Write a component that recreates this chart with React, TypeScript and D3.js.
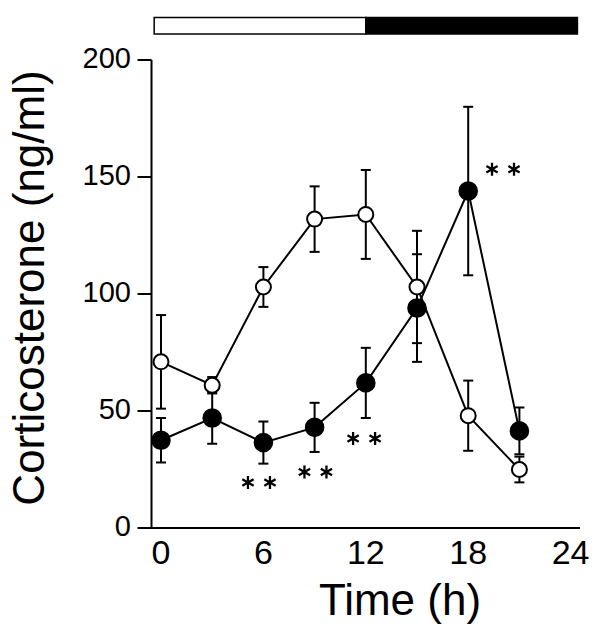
import React from "react";
import * as d3 from "d3";

const hours = [0, 3, 6, 9, 12, 15, 18, 21];
const lightMean = [71, 61, 103, 132, 134, 103, 48, 25];
const lightSE = [20, 3.5, 8.5, 14, 19, 24, 15, 5.5];
const darkMean = [37.5, 47, 36.5, 43, 62, 94, 144, 41.5];
const darkSE = [9.5, 11, 9, 10.5, 15, 23, 36, 10];
const xTicks = [0, 6, 12, 18, 24];
const yTicks = [0, 50, 100, 150, 200];
const starHours = [5.74, 9.05, 11.9, 20.04];
const starValues = [19.4, 23.9, 38.2, 153.3];
const barSegments = [
  { from: -0.4, to: 12, fill: "#fff" },
  { from: 12, to: 24.4, fill: "#000" },
];

const W = 600;
const H = 631;
const FONT = "'Liberation Sans', Arial, Helvetica, sans-serif";

function Star({ cx, cy }: { cx: number; cy: number }) {
  const r = 6.5;
  const a = Math.cos(Math.PI / 6) * r;
  const b = Math.sin(Math.PI / 6) * r;
  const d = `M${cx},${cy - r}L${cx},${cy + r}M${cx - a},${cy - b}L${cx + a},${cy + b}M${cx - a},${cy + b}L${cx + a},${cy - b}`;
  return <path d={d} stroke="#000" strokeWidth={2.3} fill="none" />;
}

export default function App() {
  const x = d3.scaleLinear().domain([0, 24]).range([161, 570.6]);
  const y = d3.scaleLinear().domain([0, 200]).range([528, 60]);
  const axisX = 151.5;

  const line = d3
    .line<number>()
    .x((_, i) => x(hours[i]))
    .y((d) => y(d));

  const series = [
    { mean: lightMean, se: lightSE, fill: "#fff", r: 7.5 },
    { mean: darkMean, se: darkSE, fill: "#000", r: 8.8 },
  ];

  return (
    <svg
      width={W}
      height={H}
      style={{ position: "absolute", left: 0, top: 0, background: "#fff" }}
      fontFamily={FONT}
    >
      <rect x={0} y={0} width={W} height={H} fill="#fff" />
      {/* light/dark bar */}
      {barSegments.map((s, i) => (
        <rect
          key={i}
          x={x(s.from)}
          y={17.5}
          width={x(s.to) - x(s.from)}
          height={16.5}
          fill={s.fill}
          stroke="#000"
          strokeWidth={1.5}
        />
      ))}
      {/* axes */}
      <line x1={axisX} x2={axisX} y1={y(200)} y2={y(0)} stroke="#000" strokeWidth={2} />
      <line x1={axisX - 1} x2={x(24.55)} y1={y(0)} y2={y(0)} stroke="#000" strokeWidth={2} />
      {yTicks.map((t) => (
        <g key={t}>
          <line x1={axisX - 14} x2={axisX} y1={y(t)} y2={y(t)} stroke="#000" strokeWidth={2} />
          <text x={131} y={y(t) + 8} textAnchor="end" fontSize={29}>
            {t}
          </text>
        </g>
      ))}
      {xTicks.map((t) => (
        <text key={t} x={x(t)} y={564} textAnchor="middle" fontSize={34}>
          {t}
        </text>
      ))}
      <text x={400} y={615} textAnchor="middle" fontSize={44}>
        Time (h)
      </text>
      <text
        transform={`translate(43.5,288) rotate(-90)`}
        textAnchor="middle"
        fontSize={44}
      >
        Corticosterone (ng/ml)
      </text>
      {/* series */}
      {series.map((s, k) => (
        <g key={k}>
          <path d={line(s.mean) || ""} fill="none" stroke="#000" strokeWidth={2} />
          {s.mean.map((m, i) => (
            <g key={i}>
              <line x1={x(hours[i])} x2={x(hours[i])} y1={y(m - s.se[i])} y2={y(m + s.se[i])} stroke="#000" strokeWidth={2} />
              <line x1={x(hours[i]) - 5} x2={x(hours[i]) + 5} y1={y(m - s.se[i])} y2={y(m - s.se[i])} stroke="#000" strokeWidth={2} />
              <line x1={x(hours[i]) - 5} x2={x(hours[i]) + 5} y1={y(m + s.se[i])} y2={y(m + s.se[i])} stroke="#000" strokeWidth={2} />
            </g>
          ))}
        </g>
      ))}
      {series.map((s, k) => (
        <g key={"c" + k}>
          {s.mean.map((m, i) => (
            <circle key={i} cx={x(hours[i])} cy={y(m)} r={s.r} fill={s.fill} stroke="#000" strokeWidth={2} />
          ))}
        </g>
      ))}
      {/* significance marks */}
      {starHours.map((h, i) => (
        <g key={i}>
          <Star cx={x(h) - 11} cy={y(starValues[i])} />
          <Star cx={x(h) + 11} cy={y(starValues[i])} />
        </g>
      ))}
    </svg>
  );
}
